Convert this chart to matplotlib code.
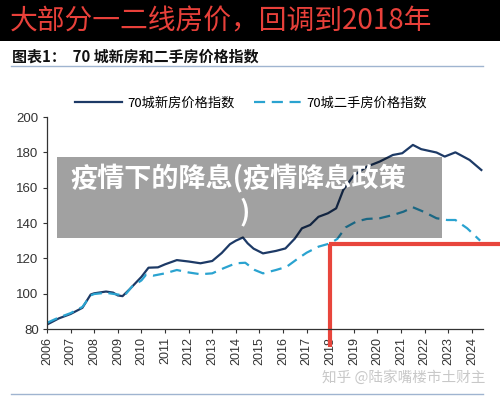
import matplotlib
matplotlib.use("Agg")
import matplotlib.pyplot as plt
from matplotlib.patches import Rectangle
from matplotlib.lines import Line2D

plt.rcParams['font.family'] = ['Noto Sans CJK SC', 'DejaVu Sans']

# 70城新房价格指数
years_new = [2006.0, 2006.5, 2007.0, 2007.5, 2007.85, 2008.0, 2008.5, 2008.8, 2009.0, 2009.2,
             2009.5, 2010.0, 2010.3, 2010.7, 2011.0, 2011.5, 2012.0, 2012.5, 2013.0, 2013.4,
             2013.75, 2014.0, 2014.3, 2014.5, 2014.75, 2015.15, 2015.7, 2016.1, 2016.5, 2016.8,
             2017.15, 2017.5, 2017.9, 2018.25, 2018.55, 2019.0, 2019.55, 2020.1, 2020.65, 2021.05,
             2021.5, 2021.85, 2022.5, 2022.85, 2023.3, 2023.9, 2024.4]
new_idx = [82.5, 86, 88.5, 92, 99.5, 100.2, 101.2, 100.6, 99, 98.6,
           102.5, 109.5, 114.7, 114.9, 116.6, 119, 118.2, 117.2, 118.5, 123,
           128, 130, 131.8, 128.5, 125.5, 122.8, 124.2, 125.6, 131.2, 137,
           138.9, 143.5, 145.5, 148.3, 158.7, 167, 171.9, 174.8, 178.5, 179.5,
           184.2, 181.8, 179.9, 177.6, 180, 175.7, 170]

# 70城二手房价格指数
years_old = [2006.0, 2006.5, 2007.0, 2007.5, 2007.85, 2008.0, 2008.5, 2009.0, 2009.3, 2009.6,
             2010.0, 2010.2, 2010.5, 2011.0, 2011.5, 2012.0, 2012.5, 2013.0, 2013.5, 2014.0,
             2014.4, 2014.8, 2015.15, 2015.7, 2016.15, 2016.6, 2017.0, 2017.5, 2018.0, 2018.3,
             2018.65, 2019.1, 2019.55, 2020.1, 2020.65, 2021.1, 2021.5, 2021.95, 2022.5, 2022.95,
             2023.3, 2023.8, 2024.35]
old_idx = [83.5, 86.5, 89, 92.5, 99, 99.8, 100.5, 99.5, 99.2, 104,
           107.5, 110.8, 110.2, 111.5, 113.4, 112, 111, 111.5, 114.5, 117.2,
           117.5, 113.4, 111.5, 113.4, 115.2, 119.6, 123.2, 126.6, 128.5, 131,
           137.5, 140.8, 142.3, 142.7, 144.5, 146.4, 148.9, 146.4, 142.7, 141.7,
           141.7, 137, 130]

year_ticks = list(range(2006, 2025))
y_ticks = [80, 100, 120, 140, 160, 180, 200]
mark_year = 2018
mark_level = 128

W, H = 500, 396
fig = plt.figure(figsize=(5.0, 3.96), dpi=100)
fig.patch.set_facecolor('white')

# black title band
fig.add_artist(Rectangle((0, 1 - 41 / H), 1, 41 / H, transform=fig.transFigure,
                         facecolor='black', edgecolor='none', zorder=0))
fig.text(10 / W, 1 - 21 / H, '大部分一二线房价，回调到2018年', color='#e8403a',
         fontsize=20, va='center', ha='left')
fig.text(12 / W, 1 - 57 / H, '图表1：  70 城新房和二手房价格指数', color='#111111',
         fontsize=10.8, fontweight='bold', va='center', ha='left')
fig.add_artist(Line2D([11 / W, 483 / W], [1 - 66 / H, 1 - 66 / H], transform=fig.transFigure,
                      color='#9fb4d0', lw=1))
fig.add_artist(Line2D([11 / W, 483 / W], [1 - 394 / H, 1 - 394 / H], transform=fig.transFigure,
                      color='#9fb4d0', lw=1))

ax = fig.add_axes([47 / W, 1 - 329 / H, 436 / W, 212 / H])
ax.plot(years_new, new_idx, color='#1d3a66', lw=1.6, label='70城新房价格指数')
ax.plot(years_old, old_idx, color='#2aa3d0', lw=1.6, dashes=(5, 3), label='70城二手房价格指数')

ax.set_xlim(2006, 2024.47)
ax.set_ylim(80, 200)
ax.set_xticks(year_ticks)
ax.set_xticklabels([str(y) for y in year_ticks], rotation=90, family='Liberation Sans',
                   fontsize=9, color='#333333')
ax.set_yticks(y_ticks)
ax.set_yticklabels([str(v) for v in y_ticks], family='Liberation Sans', fontsize=9.5,
                   color='#333333')
ax.tick_params(length=3, width=0.8, color='#333333', pad=3)
for s in ['top', 'right']:
    ax.spines[s].set_visible(False)
for s in ['left', 'bottom']:
    ax.spines[s].set_color('#333333')
    ax.spines[s].set_linewidth(0.9)

ax.legend(loc='center left', bbox_to_anchor=(63 / W, 1 - 103 / H),
          bbox_transform=fig.transFigure, ncol=2, frameon=False, fontsize=9.5,
          handlelength=3.6, columnspacing=1.4, handletextpad=0.4)

# red marker lines
ax.plot([mark_year, mark_year], [mark_level, 70], color='#e8453c', lw=3, clip_on=False,
        solid_capstyle='butt')
ax.plot([mark_year - 0.05, 2025.3], [mark_level, mark_level], color='#e8453c', lw=3,
        clip_on=False, solid_capstyle='butt')

# gray overlay
fig.add_artist(Rectangle((57 / W, 1 - 238 / H), 385 / W, 81 / H, transform=fig.transFigure,
                         facecolor='black', alpha=0.37, edgecolor='none', zorder=5))
fig.text(70 / W, 1 - 179 / H, '疫情下的降息(疫情降息政策', color='white', fontsize=19.5,
         fontweight='bold', va='center', ha='left', zorder=6)
fig.text(245 / W, 1 - 212 / H, ')', color='white', fontsize=19.5, fontweight='bold',
         va='center', ha='center', zorder=6)

fig.text(322 / W, 1 - 377 / H, '知乎 @陆家嘴楼市土财主', color='#c8c8c8', fontsize=10.5,
         va='center', ha='left', zorder=6)

fig.savefig('out.png', dpi=100)
